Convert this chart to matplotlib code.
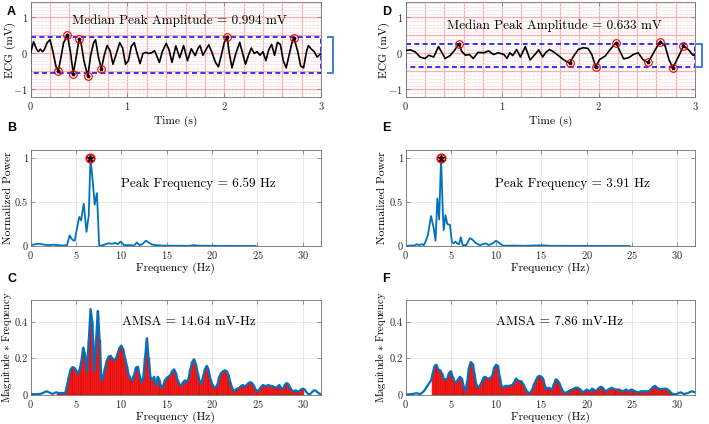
import numpy as np
import matplotlib
matplotlib.use('Agg')
import matplotlib.pyplot as plt

plt.rcParams['font.family'] = 'cmr10'
plt.rcParams['mathtext.fontset'] = 'cm'
plt.rcParams['axes.unicode_minus'] = False
plt.rcParams['axes.formatter.use_mathtext'] = True

# ---- ECG traces (s, mV) ----
ecg_a_t = [0.00, 0.03, 0.06, 0.08, 0.10, 0.12, 0.14, 0.17, 0.20, 0.23, 0.26, 0.285, 0.31, 0.34, 0.38,
           0.41, 0.44, 0.47, 0.50, 0.52, 0.55, 0.59, 0.62, 0.65, 0.67, 0.70, 0.73, 0.76, 0.79, 0.82,
           0.85, 0.88, 0.92, 0.95, 0.98, 1.01, 1.04, 1.07, 1.10, 1.13, 1.16, 1.19, 1.22, 1.25, 1.28,
           1.30, 1.33, 1.36, 1.40, 1.43, 1.46, 1.50, 1.54, 1.58, 1.62, 1.66, 1.70, 1.73, 1.75, 1.78,
           1.80, 1.84, 1.87, 1.91, 1.94, 1.97, 2.00, 2.03, 2.05, 2.08, 2.12, 2.16, 2.19, 2.22, 2.25,
           2.28, 2.31, 2.34, 2.37, 2.40, 2.43, 2.46, 2.49, 2.52, 2.55, 2.58, 2.61, 2.64, 2.67, 2.70,
           2.72, 2.76, 2.79, 2.82, 2.85, 2.87, 2.90, 2.93, 2.96, 3.00]
ecg_a_v = [0.02, 0.33, 0.12, 0.05, 0.12, 0.05, 0.10, 0.30, 0.38, 0.05, -0.35, -0.50, -0.15, 0.30, 0.50,
           0.05, -0.56, -0.10, 0.40, 0.30, -0.20, -0.63, -0.05, 0.30, 0.38, -0.10, -0.43, -0.05, 0.22, 0.08,
           -0.30, -0.05, 0.30, 0.15, -0.30, -0.20, 0.20, 0.30, 0.00, -0.28, 0.00, 0.03, 0.00, 0.02, 0.08,
           -0.05, -0.25, 0.05, 0.28, 0.10, -0.25, 0.21, -0.12, 0.22, -0.20, 0.13, -0.06, 0.15, 0.22, -0.05,
           0.05, 0.24, 0.05, -0.25, -0.37, -0.05, 0.30, 0.46, 0.05, -0.40, 0.00, 0.31, 0.00, -0.30, -0.05,
           0.15, 0.00, 0.05, -0.05, 0.05, -0.20, 0.10, 0.25, -0.05, 0.31, 0.25, -0.20, -0.40, -0.05, 0.30,
           0.44, 0.05, -0.35, -0.40, 0.05, 0.22, 0.12, 0.05, -0.10, 0.00]
peaks_a = [11, 14, 16, 18, 21, 26, 67, 90]
amp_lines_a = [0.45, -0.545]

ecg_d_t = [0.00, 0.05, 0.10, 0.15, 0.20, 0.24, 0.29, 0.34, 0.37, 0.41, 0.46, 0.51, 0.55, 0.58, 0.62,
           0.66, 0.70, 0.75, 0.81, 0.86, 0.91, 0.96, 1.02, 1.05, 1.08, 1.11, 1.15, 1.19, 1.24, 1.29,
           1.33, 1.38, 1.42, 1.45, 1.49, 1.53, 1.58, 1.64, 1.70, 1.74, 1.79, 1.84, 1.89, 1.93, 1.97,
           2.01, 2.07, 2.12, 2.18, 2.22, 2.26, 2.31, 2.36, 2.41, 2.46, 2.51, 2.55, 2.60, 2.64, 2.69,
           2.73, 2.77, 2.83, 2.88, 2.93, 2.98, 3.00]
ecg_d_v = [0.08, 0.10, 0.04, -0.10, -0.14, -0.05, -0.10, 0.19, 0.05, -0.14, -0.06, 0.10, 0.27, 0.06, -0.05,
           -0.03, -0.14, 0.03, 0.02, 0.07, -0.03, 0.02, -0.03, -0.14, 0.02, -0.06, 0.11, -0.10, 0.19, -0.18,
           -0.06, 0.10, -0.10, 0.02, 0.11, 0.05, -0.05, -0.18, -0.27, -0.08, 0.11, 0.16, 0.14, -0.03, -0.37,
           -0.17, -0.07, 0.11, 0.30, 0.07, -0.15, -0.12, -0.03, 0.02, -0.17, -0.25, -0.08, 0.16, 0.33, 0.21,
           -0.17, -0.40, -0.08, 0.21, 0.11, -0.05, -0.03]
peaks_d = [12, 38, 44, 48, 55, 58, 61, 63]
amp_lines_d = [0.27, -0.365]

# ---- normalized power spectra ----
psd_b_f = [0, 0.5, 1.0, 1.5, 2.0, 2.5, 3.0, 3.5, 4.0, 4.3, 4.6, 4.85, 5.1, 5.35, 5.55, 5.85, 6.15, 6.4,
           6.59, 6.85, 7.05, 7.3, 7.55, 8.0, 8.5, 9.0, 9.3, 9.6, 9.9, 10.3, 11.0, 11.4, 11.7, 12.0, 12.3,
           12.7, 13.0, 13.3, 13.7, 14.5, 16, 17.5, 18.0, 18.5, 20, 22, 24.8]
psd_b_p = [0.01, 0.02, 0.025, 0.015, 0.01, 0.015, 0.01, 0.005, 0.01, 0.12, 0.07, 0.06, 0.2, 0.33, 0.29,
           0.48, 0.16, 0.35, 1.0, 0.72, 0.47, 0.6, 0.0, 0.01, 0.03, 0.025, 0.035, 0.02, 0.05, 0.01, 0.01,
           0.005, 0.04, 0.01, 0.02, 0.06, 0.04, 0.02, 0.01, 0.005, 0.003, 0.002, 0.01, 0.003, 0.002, 0.001, 0.0]

psd_e_f = [0, 0.5, 1.0, 1.2, 1.5, 1.8, 2.0, 2.2, 2.45, 2.8, 3.1, 3.3, 3.5, 3.7, 3.91, 4.1, 4.2, 4.4, 4.6,
           4.9, 5.1, 5.3, 5.5, 5.7, 5.9, 6.1, 6.3, 6.7, 7.1, 7.4, 7.8, 8.2, 8.8, 9.2, 9.6, 10.0, 10.4, 10.8,
           12, 13, 15, 16, 20, 24.8]
psd_e_p = [0.0, 0.005, 0.005, 0.02, 0.01, 0.02, 0.01, 0.05, 0.12, 0.34, 0.2, 0.06, 0.54, 0.3, 1.0, 0.4,
           0.18, 0.35, 0.25, 0.24, 0.05, 0.03, 0.05, 0.03, 0.02, 0.1, 0.01, 0.01, 0.09, 0.07, 0.03, 0.01,
           0.03, 0.01, 0.03, 0.06, 0.03, 0.003, 0.005, 0.002, 0.008, 0.002, 0.001, 0.0]

# ---- magnitude * frequency, 0 to 32 Hz in 0.2 Hz steps ----
amsa_step = 0.2
amsa_c = [0.005, 0.005, 0.005, 0.005, 0.005, 0.006, 0.008, 0.012, 0.018, 0.02,
          0.015, 0.01, 0.006, 0.01, 0.015, 0.012, 0.01, 0.012, 0.01, 0.01,
          0.05, 0.10, 0.14, 0.152, 0.15, 0.135, 0.115, 0.14, 0.19, 0.26,
          0.22, 0.13, 0.30, 0.47, 0.40, 0.13, 0.30, 0.46, 0.30, 0.08,
          0.10, 0.15, 0.19, 0.21, 0.215, 0.20, 0.19, 0.20, 0.23, 0.26,
          0.27, 0.25, 0.20, 0.16, 0.11, 0.09, 0.08, 0.11, 0.15, 0.155,
          0.11, 0.07, 0.09, 0.20, 0.31, 0.20, 0.10, 0.08, 0.10, 0.05,
          0.10, 0.08, 0.04, 0.05, 0.08, 0.095, 0.10, 0.11, 0.13, 0.14,
          0.12, 0.08, 0.06, 0.05, 0.07, 0.08, 0.07, 0.09, 0.14, 0.18,
          0.195, 0.17, 0.12, 0.08, 0.06, 0.10, 0.14, 0.16, 0.14, 0.09,
          0.06, 0.045, 0.04, 0.06, 0.10, 0.12, 0.13, 0.135, 0.13, 0.11,
          0.07, 0.04, 0.02, 0.03, 0.035, 0.04, 0.05, 0.055, 0.045, 0.055,
          0.065, 0.07, 0.065, 0.05, 0.03, 0.02, 0.03, 0.045, 0.055, 0.05,
          0.05, 0.055, 0.05, 0.05, 0.045, 0.04, 0.045, 0.055, 0.04, 0.03,
          0.055, 0.065, 0.06, 0.04, 0.025, 0.02, 0.025, 0.02, 0.02, 0.03,
          0.035, 0.03, 0.015, 0.005, 0.005, 0.015, 0.025, 0.025, 0.015, 0.008,
          0.005]
amsa_f = [0.003, 0.003, 0.004, 0.005, 0.006, 0.008, 0.01, 0.007, 0.005, 0.012,
          0.02, 0.035, 0.05, 0.065, 0.08, 0.12, 0.16, 0.165, 0.14, 0.135,
          0.12, 0.09, 0.085, 0.09, 0.12, 0.13, 0.10, 0.075, 0.07, 0.085,
          0.10, 0.09, 0.05, 0.02, 0.07, 0.15, 0.18, 0.17, 0.12, 0.06,
          0.04, 0.05, 0.07, 0.095, 0.10, 0.09, 0.09, 0.095, 0.11, 0.15,
          0.165, 0.16, 0.10, 0.05, 0.04, 0.05, 0.05, 0.05, 0.052, 0.055,
          0.07, 0.09, 0.08, 0.075, 0.075, 0.06, 0.04, 0.02, 0.01, 0.015,
          0.03, 0.06, 0.08, 0.10, 0.105, 0.10, 0.09, 0.05, 0.03, 0.04,
          0.035, 0.03, 0.06, 0.085, 0.08, 0.065, 0.04, 0.02, 0.01, 0.015,
          0.02, 0.025, 0.03, 0.035, 0.04, 0.04, 0.035, 0.025, 0.015, 0.02,
          0.03, 0.025, 0.02, 0.035, 0.03, 0.02, 0.03, 0.04, 0.045, 0.04,
          0.025, 0.02, 0.03, 0.035, 0.04, 0.035, 0.03, 0.03, 0.03, 0.025,
          0.02, 0.025, 0.03, 0.02, 0.025, 0.03, 0.025, 0.02, 0.015, 0.015,
          0.02, 0.02, 0.02, 0.02, 0.02, 0.025, 0.035, 0.045, 0.05, 0.04,
          0.035, 0.03, 0.033, 0.035, 0.035, 0.03, 0.02, 0.01, 0.005, 0.004,
          0.005, 0.01, 0.015, 0.01, 0.005, 0.008, 0.01, 0.015, 0.02, 0.018,
          0.015]
amsa_band_c = [3.0, 30.0]
amsa_band_f = [3.0, 29.6]

RED = '#ff2020'
BLUE = '#0072BD'
FRAME = '#707070'
TICK_FS = 7.5
LABEL_FS = 8.3
NOTE_FS = 9.5

fig = plt.figure(figsize=(7.09, 4.24), dpi=100)


def style(ax):
    for s in ax.spines.values():
        s.set_color(FRAME)
        s.set_linewidth(0.6)
    ax.tick_params(direction='in', length=3, width=0.5, color=FRAME, labelcolor='#262626',
                   labelsize=TICK_FS, top=True, right=True, pad=2.5)
    ax.tick_params(axis='y', pad=2)


def ecg_panel(pos, t, v, peaks, lines, text, text_y, br, ylab_x):
    ax = fig.add_axes(pos)
    t = np.array(t)
    v = np.array(v)
    ax.set_xlim(0, 3)
    ax.set_ylim(-1.21, 1.43)
    for x in np.arange(0, 3.001, 0.04):
        major = abs(x / 0.2 - round(x / 0.2)) < 1e-6
        ax.axvline(x, color='#f7b0b0' if major else '#fdf0f0', lw=0.9 if major else 0.4, zorder=0)
    for y in np.arange(-1.2, 1.43, 0.1):
        major = abs(y / 0.5 - round(y / 0.5)) < 1e-6
        ax.axhline(y, color='#f7b0b0' if major else '#fbe0e0', lw=0.9 if major else 0.5, zorder=0)
    ax.plot([0, 3, 3, 0, 0], [lines[0], lines[0], lines[1], lines[1], lines[0]], '--',
            color='#1010ff', lw=1.2, dashes=(3, 2), zorder=2)
    ax.plot(t, v, color='k', lw=1.2, zorder=3)
    ax.plot(t[peaks], v[peaks], 'o', mfc='none', mec='red', ms=5.5, mew=0.8, zorder=4)
    ax.plot(t[peaks], v[peaks], '*', color='k', ms=2.5, zorder=5)
    ax.plot([br[0], br[1], br[1], br[0]], [lines[0], lines[0], lines[1], lines[1]],
            color='#3d7ed6', lw=1.4, clip_on=False)
    ax.set_xticks([0, 1, 2, 3])
    ax.set_yticks([-1, 0, 1])
    ax.set_xlabel('Time (s)', fontsize=LABEL_FS, labelpad=2)
    ax.set_ylabel('ECG (mV)', fontsize=LABEL_FS)
    ax.yaxis.set_label_coords(ylab_x, 0.5)
    ax.text(1.54, text_y, text, ha='center', va='center', fontsize=NOTE_FS)
    style(ax)
    return ax


def psd_panel(pos, f, p, text, ylab_x):
    ax = fig.add_axes(pos)
    f = np.array(f)
    p = np.array(p)
    ax.grid(True, color='#e4e4e4', lw=0.6)
    ax.set_axisbelow(True)
    ax.plot(f, p, color=BLUE, lw=1.3)
    k = int(np.argmax(p))
    ax.plot(f[k], p[k], 'o', mfc='none', mec='red', ms=6, mew=1.3)
    ax.plot(f[k], p[k], '*', color='k', ms=4.5)
    ax.set_xlim(0, 32)
    ax.set_ylim(0, 1.09)
    ax.set_xticks([0, 5, 10, 15, 20, 25, 30])
    ax.set_yticks([0, 0.5, 1])
    ax.set_yticklabels(['0', '0.5', '1'])
    ax.set_xlabel('Frequency (Hz)', fontsize=LABEL_FS, labelpad=1)
    ax.set_ylabel('Normalized Power', fontsize=LABEL_FS)
    ax.yaxis.set_label_coords(ylab_x, 0.5)
    ax.text(18.45, 0.71, text, ha='center', va='center', fontsize=NOTE_FS)
    style(ax)
    return ax


def amsa_panel(pos, vals, band, text, text_x, ylab_x):
    ax = fig.add_axes(pos)
    vals = np.array(vals)
    f = np.arange(len(vals)) * amsa_step
    ax.grid(True, color='#e4e4e4', lw=0.6)
    ax.set_axisbelow(True)
    m = (f >= band[0] - 1e-9) & (f <= band[1] + 1e-9)
    ax.bar(f[m], vals[m], width=amsa_step, color=RED, edgecolor='#c00000', linewidth=0.3)
    ax.plot(f, vals, color=BLUE, lw=1.6)
    ax.set_xlim(0, 32)
    ax.set_ylim(0, 0.52)
    ax.set_xticks([0, 5, 10, 15, 20, 25, 30])
    ax.set_yticks([0, 0.2, 0.4])
    ax.set_yticklabels(['0', '0.2', '0.4'])
    ax.set_xlabel('Frequency (Hz)', fontsize=LABEL_FS, labelpad=1)
    ax.set_ylabel(r'Magnitude $*$ Frequency', fontsize=7.6)
    ax.yaxis.set_label_coords(ylab_x, 0.5)
    ax.text(text_x, 0.40, text, ha='center', va='center', fontsize=NOTE_FS)
    style(ax)
    return ax


W, H = 709.0, 424.0
col_l = [30.7 / W, 405.7 / W]
col_w = [290.3 / W, 289.3 / W]
row_b = [1 - 97 / H, 1 - 246 / H, 1 - 395 / H]
row_h = [95 / H, 96 / H, 95 / H]

ecg_panel([col_l[0], row_b[0], col_w[0], row_h[0]], ecg_a_t, ecg_a_v, peaks_a, amp_lines_a,
          'Median Peak Amplitude = 0.994 mV', 0.92, [3.07, 3.12], -0.052)
ecg_panel([col_l[1], row_b[0], col_w[1], row_h[0]], ecg_d_t, ecg_d_v, peaks_d, amp_lines_d,
          'Median Peak Amplitude = 0.633 mV', 0.77, [3.02, 3.07], -0.053)
psd_panel([col_l[0], row_b[1], col_w[0], row_h[1]], psd_b_f, psd_b_p, 'Peak Frequency = 6.59 Hz', -0.062)
psd_panel([col_l[1], row_b[1], col_w[1], row_h[1]], psd_e_f, psd_e_p, 'Peak Frequency = 3.91 Hz', -0.065)
amsa_panel([col_l[0], row_b[2], col_w[0], row_h[2]], amsa_c, amsa_band_c, 'AMSA = 14.64 mV-Hz', 17.4, -0.059)
amsa_panel([col_l[1], row_b[2], col_w[1], row_h[2]], amsa_f, amsa_band_f, 'AMSA = 7.86 mV-Hz', 17.05, -0.062)

for letter, x, y in [('A', 7, 12), ('B', 7, 128), ('C', 7, 279), ('D', 382, 12), ('E', 382, 128), ('F', 382, 279)]:
    fig.text(x / W, 1 - y / H, letter, family='Liberation Sans', weight='bold', fontsize=9,
             ha='left', va='center')

fig.savefig('out.png', dpi=100)
